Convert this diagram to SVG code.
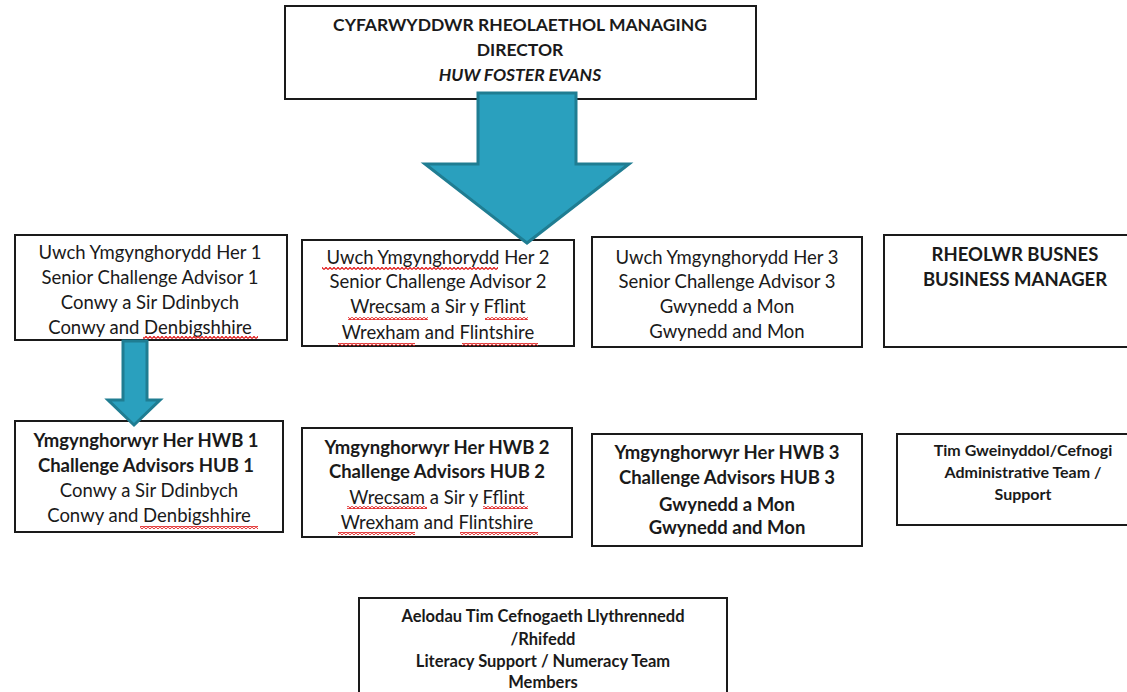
<svg xmlns="http://www.w3.org/2000/svg" width="1127" height="692" viewBox="0 0 1127 692">
<defs>
<style>
.box{fill:#fff;stroke:#1a1a1a;stroke-width:2}
.t{font-family:Lato,"Open Sans","Liberation Sans",sans-serif;font-size:18.5px;fill:#1a1a1a;text-anchor:middle}
.b{font-weight:bold}
.s{font-size:16px}
.top{font-size:17.5px}
.lit{font-size:16.5px}
.arrow{fill:#2aa0be;stroke:#1f7d92;stroke-width:3;stroke-linejoin:miter}
.sq{fill:url(#squig)}
</style>
<pattern id="squig" width="4" height="3" patternUnits="userSpaceOnUse">
<path d="M0,2.6 L2,0.4 L4,2.6" fill="none" stroke="#e01818" stroke-width="1.2"/>
</pattern>
</defs>
<rect width="1127" height="692" fill="#fff"/>

<g id="director">
<rect class="box" x="285" y="6" width="471" height="93"/>
<text class="t b top" x="520" y="31">CYFARWYDDWR RHEOLAETHOL MANAGING</text>
<text class="t b top" x="520" y="56">DIRECTOR</text>
<text class="t b top" x="520" y="81" font-style="italic">HUW FOSTER EVANS</text>
</g>

<g id="senior1">
<rect class="box" x="15" y="235" width="272" height="105"/>
<text class="t" x="150" y="259">Uwch Ymgynghorydd Her 1</text>
<text class="t" x="150" y="284">Senior Challenge Advisor 1</text>
<text class="t" x="150" y="309">Conwy a Sir Ddinbych</text>
<text class="t" x="150" y="334">Conwy and Denbigshhire</text>
<rect class="sq" x="143" y="336" width="115" height="3"/>
</g>

<g id="senior2">
<rect class="box" x="302" y="240" width="272" height="106"/>
<text class="t" x="438" y="264">Uwch Ymgynghorydd Her 2</text>
<text class="t" x="438" y="288">Senior Challenge Advisor 2</text>
<text class="t" x="438" y="313">Wrecsam a Sir y Fflint</text>
<text class="t" x="438" y="339">Wrexham and Flintshire</text>
<rect class="sq" x="322" y="267" width="176" height="3"/>
<rect class="sq" x="348" y="317" width="80" height="3"/>
<rect class="sq" x="485" y="317" width="43" height="3"/>
<rect class="sq" x="338" y="343" width="77" height="3"/>
<rect class="sq" x="462" y="343" width="76" height="3"/>
</g>

<g id="senior3">
<rect class="box" x="592" y="237" width="270" height="110"/>
<text class="t" x="727" y="264">Uwch Ymgynghorydd Her 3</text>
<text class="t" x="727" y="288">Senior Challenge Advisor 3</text>
<text class="t" x="727" y="313">Gwynedd a Mon</text>
<text class="t" x="727" y="338">Gwynedd and Mon</text>
</g>

<g id="business-manager">
<rect class="box" x="884" y="235" width="260" height="112"/>
<text class="t b" x="1015" y="261">RHEOLWR BUSNES</text>
<text class="t b" x="1015" y="286">BUSINESS MANAGER</text>
</g>

<g id="hub1">
<rect class="box" x="15" y="421" width="268" height="111"/>
<text class="t b" x="146" y="447">Ymgynghorwyr Her HWB 1</text>
<text class="t b" x="146" y="472">Challenge Advisors HUB 1</text>
<text class="t" x="149" y="497">Conwy a Sir Ddinbych</text>
<text class="t" x="149" y="522">Conwy and Denbigshhire</text>
<rect class="sq" x="140" y="526" width="118" height="3"/>
</g>

<g id="hub2">
<rect class="box" x="302" y="428" width="270" height="109"/>
<text class="t b" x="437" y="454">Ymgynghorwyr Her HWB 2</text>
<text class="t b" x="437" y="478">Challenge Advisors HUB 2</text>
<text class="t" x="437" y="504">Wrecsam a Sir y Fflint</text>
<text class="t" x="437" y="529">Wrexham and Flintshire</text>
<rect class="sq" x="347" y="506" width="80" height="3"/>
<rect class="sq" x="483" y="506" width="45" height="3"/>
<rect class="sq" x="338" y="532" width="77" height="3"/>
<rect class="sq" x="460" y="532" width="78" height="3"/>
</g>

<g id="hub3">
<rect class="box" x="592" y="434" width="270" height="112"/>
<text class="t b" x="727" y="459">Ymgynghorwyr Her HWB 3</text>
<text class="t b" x="727" y="484">Challenge Advisors HUB 3</text>
<text class="t b" x="727" y="511">Gwynedd a Mon</text>
<text class="t b" x="727" y="534">Gwynedd and Mon</text>
</g>

<g id="admin-team">
<rect class="box" x="897" y="434" width="252" height="91"/>
<text class="t b s" x="1023" y="456">Tim Gweinyddol/Cefnogi</text>
<text class="t b s" x="1023" y="478">Administrative Team /</text>
<text class="t b s" x="1023" y="500">Support</text>
</g>

<g id="literacy-team">
<rect class="box" x="359" y="598" width="368" height="100"/>
<text class="t b lit" x="543" y="622">Aelodau Tim Cefnogaeth Llythrennedd</text>
<text class="t b lit" x="543" y="645">/Rhifedd</text>
<text class="t b lit" x="543" y="667">Literacy Support / Numeracy Team</text>
<text class="t b lit" x="543" y="688">Members</text>
</g>

<g id="connectors">
<polygon class="arrow" points="478,93 576,93 576,164 629,164 527,243 425,164 478,164"/>
<polygon class="arrow" points="123,341 147,341 147,400 160,400 134,425 108,400 123,400"/>
</g>
</svg>
